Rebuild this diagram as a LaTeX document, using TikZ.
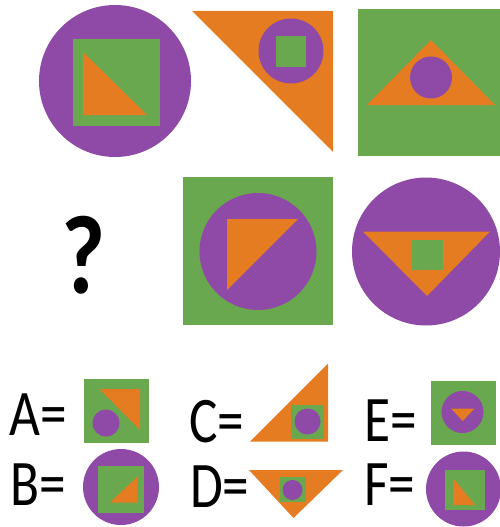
\documentclass[tikz,border=0pt]{standalone}
\usepackage{fontspec}
\setmainfont{Carlito}
\definecolor{pur}{HTML}{8E4AA6}
\definecolor{org}{HTML}{E57C22}
\definecolor{grn}{HTML}{6AA84F}
\begin{document}
\begin{tikzpicture}[x=1pt,y=-1pt,
  lbl/.style={font=\fontsize{65}{65}\selectfont, inner sep=0pt, anchor=base west},
  qm/.style={font=\fontsize{112}{112}\selectfont\bfseries, inner sep=0pt, anchor=base}]
\useasboundingbox (0,0) rectangle (500,527);
% ---- row 1 ----
\fill[pur] (115,81) circle (76pt);
\fill[grn] (73,39) rectangle (160,126);
\fill[org] (83,52) -- (83,115) -- (147,115) -- cycle;

\fill[org] (192,11) -- (333,11) -- (333,152) -- cycle;
\fill[pur] (291,51) circle (32.5pt);
\fill[grn] (276,36) rectangle (306,67);

\fill[grn] (358,9) rectangle (500,156);
\fill[org] (431,40) -- (367,105) -- (495,105) -- cycle;
\fill[pur] (431,77.5) circle (21pt);
% ---- row 2 ----
\node[qm] (q) at (84,293) {\scalebox{0.85}[1]{?}};

\fill[grn] (183,177) rectangle (333,325);
\fill[pur] (258,251.5) circle (58.5pt);
\fill[org] (227,219) -- (298,219) -- (227,290) -- cycle;

\fill[pur] (426,251.5) circle (74pt);
\fill[org] (363,231.5) -- (490,231.5) -- (427,296) -- cycle;
\fill[grn] (412,240) rectangle (443,270);
% ---- options ----
\node[lbl] (la) at (9,435) {\scalebox{0.82}[1]{A=}};
\node[lbl] (lb) at (10,505) {\scalebox{0.82}[1]{B=}};
\node[lbl] (lc) at (189,442) {\scalebox{0.82}[1]{C=}};
\node[lbl] (ld) at (190,507) {\scalebox{0.82}[1]{D=}};
\node[lbl] (le) at (364,441) {\scalebox{0.82}[1]{E=}};
\node[lbl] (lf) at (364,505) {\scalebox{0.82}[1]{F=}};

% A
\fill[grn] (84,378.5) rectangle (149,442.5);
\fill[org] (99.5,389) -- (140,389) -- (140,430) -- cycle;
\fill[pur] (106,423) circle (13.5pt);
% B
\fill[pur] (121,487) circle (38pt);
\fill[grn] (98,466) rectangle (144,512.5);
\fill[org] (110,502.5) -- (137,502.5) -- (137,477) -- cycle;
% C
\fill[org] (250,441.5) -- (328,441.5) -- (328,363.5) -- cycle;
\fill[grn] (291,405) rectangle (323.5,438.5);
\fill[pur] (307.5,421.5) circle (13pt);
% D
\fill[org] (249,470) -- (343,470) -- (293.5,518) -- cycle;
\fill[grn] (280,476.5) rectangle (305.5,502);
\fill[pur] (292.5,490) circle (10pt);
% E
\fill[grn] (430.5,381) rectangle (496,444.5);
\fill[pur] (462.5,412) circle (21pt);
\fill[org] (451,408.5) -- (474.5,408.5) -- (462.7,421) -- cycle;
% F
\fill[pur] (463.5,489) circle (37.5pt);
\fill[grn] (445,470) rectangle (485,510);
\fill[org] (453,478) -- (453,505) -- (475,505) -- cycle;
\end{tikzpicture}
\end{document}
